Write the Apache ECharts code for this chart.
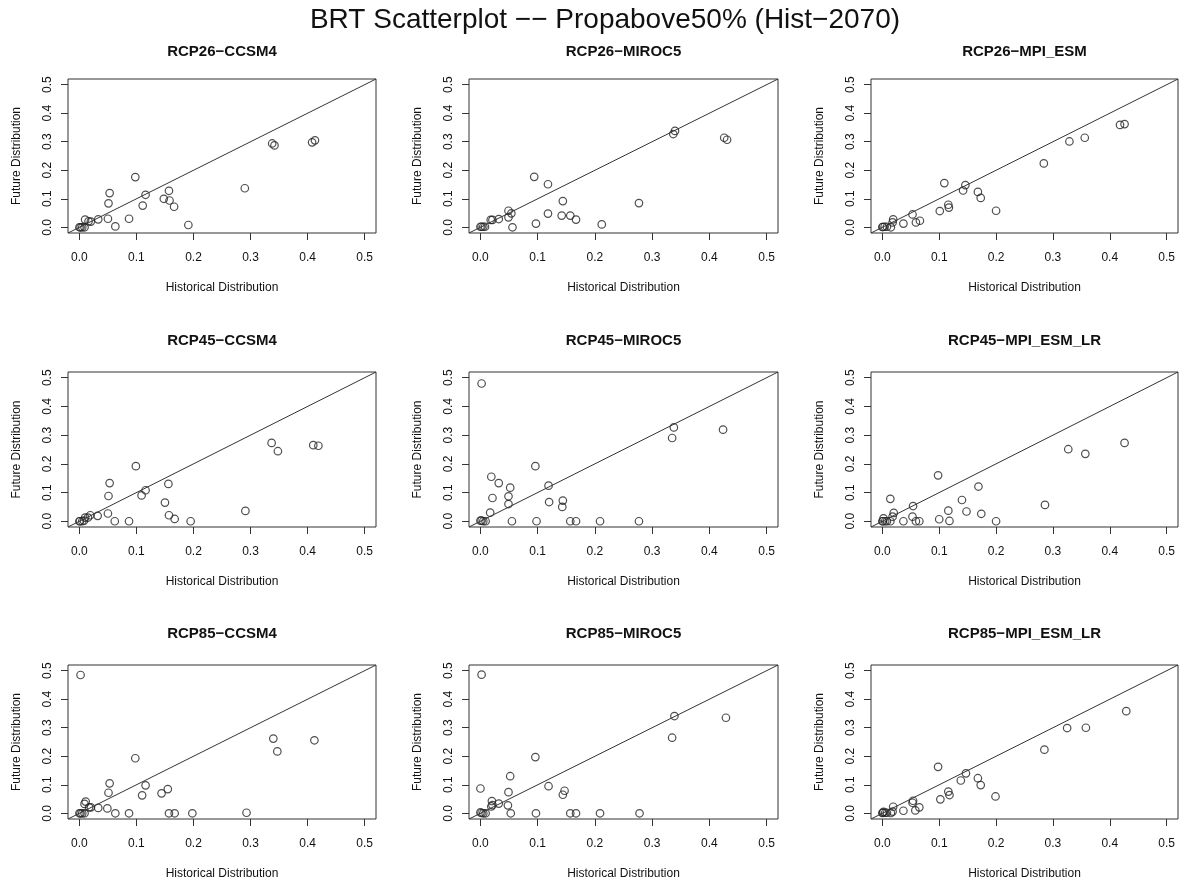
<!DOCTYPE html>
<html>
<head>
<meta charset="utf-8">
<script src="https://cdn.jsdelivr.net/npm/echarts@6/dist/echarts.min.js"></script>
<style>html,body{margin:0;padding:0;background:#fff}#c{width:1181px;height:882px}</style>
</head>
<body>
<div id="c"></div>
<script>
// ---- data ----
const mainTitle = 'BRT Scatterplot \u2212\u2212 Propabove50% (Hist\u22122070)';
const panelTitles = ['RCP26\u2212CCSM4','RCP26\u2212MIROC5','RCP26\u2212MPI_ESM',
  'RCP45\u2212CCSM4','RCP45\u2212MIROC5','RCP45\u2212MPI_ESM_LR',
  'RCP85\u2212CCSM4','RCP85\u2212MIROC5','RCP85\u2212MPI_ESM_LR'];
const tickValues = [0, 0.1, 0.2, 0.3, 0.4, 0.5];
const axisRange = [-0.02, 0.52];
const refLine = [-0.02, 0.52];

const rcp26ccsm4Hist = [0,0.002,0.005,0.009,0.010,0.016,0.020,0.033,0.050,0.053,0.051,0.063,0.087,0.098,0.111,0.116,0.148,0.157,0.158,0.166,0.191,0.290,0.338,0.342,0.408,0.413];
const rcp26ccsm4Fut  = [0,0,0,0,0.027,0.021,0.020,0.028,0.030,0.120,0.084,0.003,0.030,0.176,0.076,0.114,0.100,0.128,0.094,0.072,0.008,0.137,0.294,0.287,0.298,0.305];

const rcp26miroc5Hist = [0,0.002,0.005,0.008,0.018,0.021,0.032,0.049,0.049,0.054,0.056,0.094,0.097,0.118,0.118,0.144,0.142,0.157,0.167,0.212,0.277,0.337,0.340,0.426,0.431];
const rcp26miroc5Fut  = [0.002,0.002,0.002,0.002,0.026,0.026,0.029,0.058,0.035,0.049,0,0.177,0.013,0.151,0.048,0.092,0.041,0.041,0.027,0.010,0.085,0.327,0.338,0.314,0.307];

const rcp26mpiHist = [0,0.001,0.004,0.008,0.015,0.018,0.019,0.037,0.053,0.059,0.066,0.101,0.109,0.116,0.117,0.142,0.146,0.168,0.173,0.200,0.284,0.329,0.356,0.418,0.426];
const rcp26mpiFut  = [0.001,0.001,0.002,0.002,0,0.017,0.028,0.013,0.045,0.017,0.023,0.057,0.155,0.079,0.069,0.129,0.148,0.124,0.103,0.058,0.224,0.301,0.314,0.359,0.362];

const rcp45ccsm4Hist = [0,0.001,0.005,0.008,0.010,0.015,0.019,0.032,0.050,0.053,0.051,0.062,0.087,0.099,0.109,0.116,0.150,0.156,0.157,0.167,0.195,0.291,0.337,0.348,0.410,0.419];
const rcp45ccsm4Fut  = [0,0,0,0.002,0.013,0.013,0.021,0.019,0.027,0.133,0.088,0,0,0.192,0.090,0.108,0.065,0.130,0.021,0.008,0,0.036,0.273,0.244,0.265,0.263];

const rcp45miroc5Hist = [0.002,0,0.002,0.005,0.009,0.017,0.019,0.021,0.032,0.049,0.049,0.052,0.055,0.096,0.098,0.119,0.120,0.144,0.143,0.157,0.167,0.209,0.277,0.335,0.338,0.424];
const rcp45miroc5Fut  = [0.480,0.002,0.002,0,0,0.030,0.155,0.081,0.133,0.087,0.060,0.117,0,0.192,0,0.124,0.067,0.072,0.050,0,0,0,0,0.290,0.327,0.319];

const rcp45mpiHist = [0,0.001,0.002,0.005,0.008,0.014,0.014,0.018,0.020,0.037,0.053,0.054,0.059,0.065,0.098,0.100,0.116,0.118,0.140,0.148,0.169,0.174,0.200,0.286,0.327,0.357,0.426];
const rcp45mpiFut  = [0,0,0.010,0,0,0,0.078,0.016,0.029,0,0.016,0.053,0,0,0.160,0.007,0.037,0.001,0.074,0.034,0.121,0.026,0,0.057,0.251,0.235,0.273];

const rcp85ccsm4Hist = [0.002,0,0.002,0.005,0.009,0.009,0.011,0.017,0.020,0.033,0.049,0.053,0.051,0.063,0.087,0.098,0.110,0.116,0.144,0.155,0.157,0.167,0.198,0.293,0.340,0.347,0.412];
const rcp85ccsm4Fut  = [0.485,0,0,0,0,0.033,0.041,0.021,0.021,0.019,0.017,0.105,0.072,0,0,0.193,0.063,0.098,0.070,0.085,0,0,0,0.002,0.262,0.217,0.256];

const rcp85miroc5Hist = [0.002,0,0,0.002,0.005,0.009,0.019,0.020,0.021,0.032,0.048,0.049,0.052,0.053,0.096,0.097,0.119,0.144,0.147,0.157,0.167,0.209,0.278,0.335,0.339,0.429];
const rcp85miroc5Fut  = [0.486,0.087,0.003,0.001,0,0,0.024,0.043,0.029,0.034,0.028,0.074,0.130,0,0.197,0,0.095,0.065,0.079,0,0,0,0,0.265,0.341,0.335];

const rcp85mpiHist = [0,0.001,0.002,0.005,0.008,0.015,0.018,0.019,0.037,0.053,0.054,0.058,0.065,0.098,0.102,0.116,0.118,0.138,0.147,0.168,0.173,0.199,0.285,0.325,0.358,0.429];
const rcp85mpiFut  = [0.001,0.002,0.005,0.002,0.002,0.001,0.006,0.023,0.009,0.037,0.044,0.010,0.021,0.163,0.049,0.076,0.064,0.115,0.140,0.123,0.099,0.059,0.223,0.299,0.300,0.358];

const histSets = [rcp26ccsm4Hist, rcp26miroc5Hist, rcp26mpiHist, rcp45ccsm4Hist, rcp45miroc5Hist, rcp45mpiHist, rcp85ccsm4Hist, rcp85miroc5Hist, rcp85mpiHist];
const futSets  = [rcp26ccsm4Fut, rcp26miroc5Fut, rcp26mpiFut, rcp45ccsm4Fut, rcp45miroc5Fut, rcp45mpiFut, rcp85ccsm4Fut, rcp85miroc5Fut, rcp85mpiFut];

// ---- layout ----
const colLeft = [68, 469, 871];
const colWidth = [308, 309, 307];
const rowTop = [79, 372, 665];
const rowHeight = [154, 155, 154];
const titleTop = [44, 333, 626];
const FONT = '"Liberation Sans", Arial, Helvetica, sans-serif';
const INK = '#333';

const grids = [], xAxes = [], yAxes = [], series = [], titles = [];
titles.push({text: mainTitle, left: 605, top: 6, textAlign: 'center', padding: 0,
  textStyle: {fontFamily: FONT, fontSize: 28, fontWeight: 'normal', color: '#111'}});

for (let i = 0; i < 9; i++) {
  const r = Math.floor(i / 3), c = i % 3;
  grids.push({left: colLeft[c], top: rowTop[r], width: colWidth[c], height: rowHeight[r],
    show: true, borderColor: INK, borderWidth: 1, backgroundColor: 'transparent', containLabel: false});
  titles.push({text: panelTitles[i], left: colLeft[c] + colWidth[c] / 2, top: titleTop[r], textAlign: 'center', padding: 0,
    textStyle: {fontFamily: FONT, fontSize: 15, fontWeight: 'bold', color: '#111'}});
  const common = {
    gridIndex: i, type: 'value', min: axisRange[0], max: axisRange[1],
    splitLine: {show: false},
    axisLine: {show: false, onZero: false},
    axisTick: {show: true, inside: false, length: 7, customValues: tickValues, lineStyle: {color: INK}},
    nameLocation: 'middle',
    nameTextStyle: {fontFamily: FONT, fontSize: 12, color: '#111'}
  };
  xAxes.push(Object.assign({}, common, {
    name: 'Historical Distribution', nameGap: 49,
    axisLabel: {customValues: tickValues, margin: 19, fontFamily: FONT, fontSize: 12, color: '#111',
      formatter: v => v.toFixed(1)}
  }));
  yAxes.push(Object.assign({}, common, {
    name: 'Future Distribution', nameGap: 45,
    axisLabel: {customValues: tickValues, margin: 14, rotate: 90, fontFamily: FONT, fontSize: 12, color: '#111',
      formatter: v => v.toFixed(1)}
  }));
  series.push({type: 'line', xAxisIndex: i, yAxisIndex: i, data: refLine.map(v => [v, v]),
    symbol: 'none', lineStyle: {color: INK, width: 1}, silent: true, animation: false, clip: true});
  series.push({type: 'scatter', xAxisIndex: i, yAxisIndex: i,
    data: histSets[i].map((h, k) => [h, futSets[i][k]]),
    symbol: 'circle', symbolSize: 7.5,
    itemStyle: {color: 'rgba(255,255,255,0)', borderColor: '#222', borderWidth: 1.2},
    animation: false, clip: false});
}

const chart = echarts.init(document.getElementById('c'), null, {renderer: 'canvas'});
chart.setOption({backgroundColor: '#fff', animation: false, title: titles, grid: grids, xAxis: xAxes, yAxis: yAxes, series: series});
</script>
</body>
</html>
